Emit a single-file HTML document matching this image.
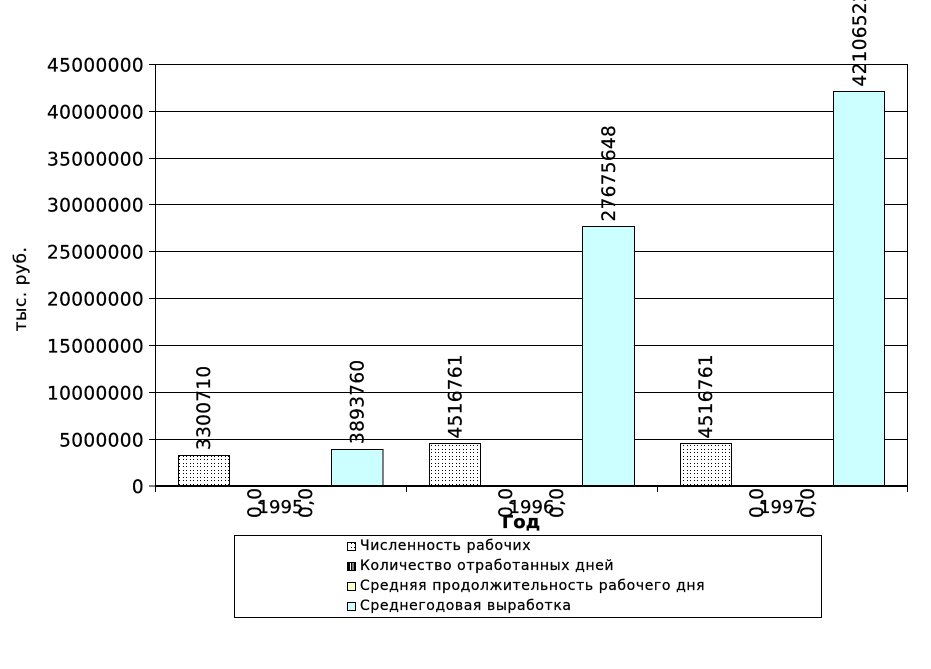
<!DOCTYPE html>
<html>
<head>
<meta charset="utf-8">
<style>
html,body{margin:0;padding:0;background:#fff;}
svg{display:block;}
text{font-family:"DejaVu Sans","Liberation Sans",sans-serif;fill:#000;stroke:#000;stroke-width:0.25px;}
</style>
</head>
<body>
<svg width="931" height="669" viewBox="0 0 931 669" xmlns="http://www.w3.org/2000/svg">
<defs>
<pattern id="dots" width="7" height="7" patternUnits="userSpaceOnUse">
<rect width="7" height="7" fill="#fff"/>
<rect x="1" y="1" width="1" height="1" fill="#000"/>
<rect x="4" y="1" width="1" height="1" fill="#000"/>
<rect x="1" y="4" width="1" height="1" fill="#000"/>
<rect x="4" y="4" width="1" height="1" fill="#000"/>
</pattern>
</defs>
<rect width="931" height="669" fill="#fff"/>

<!-- gridlines -->
<g stroke="#000" stroke-width="1">
<line x1="149" y1="64.5" x2="907" y2="64.5"/>
<line x1="149" y1="111.5" x2="907" y2="111.5"/>
<line x1="149" y1="158.5" x2="907" y2="158.5"/>
<line x1="149" y1="204.5" x2="907" y2="204.5"/>
<line x1="149" y1="251.5" x2="907" y2="251.5"/>
<line x1="149" y1="298.5" x2="907" y2="298.5"/>
<line x1="149" y1="345.5" x2="907" y2="345.5"/>
<line x1="149" y1="392.5" x2="907" y2="392.5"/>
<line x1="149" y1="439.5" x2="907" y2="439.5"/>
<line x1="149" y1="486" x2="155" y2="486"/>
<line x1="155.5" y1="64" x2="155.5" y2="487"/>
<line x1="907.5" y1="64" x2="907.5" y2="487"/>
</g>

<!-- bars -->
<g stroke="#000" stroke-width="1">
<rect x="178.5" y="455.5" width="51" height="30.5" fill="url(#dots)"/>
<rect x="331.5" y="449.5" width="51.5" height="36.5" fill="#ccffff"/>
<rect x="429.5" y="443.5" width="51" height="42.5" fill="url(#dots)"/>
<rect x="582.5" y="226.5" width="52" height="259.5" fill="#ccffff"/>
<rect x="680.5" y="443.5" width="51" height="42.5" fill="url(#dots)"/>
<rect x="833.5" y="91.5" width="51" height="394.5" fill="#ccffff"/>
</g>

<!-- x axis -->
<line x1="155" y1="486" x2="908" y2="486" stroke="#000" stroke-width="2"/>
<g stroke="#000" stroke-width="1">
<line x1="155.5" y1="486" x2="155.5" y2="492"/>
<line x1="406.5" y1="486" x2="406.5" y2="492"/>
<line x1="657.5" y1="486" x2="657.5" y2="492"/>
<line x1="907.5" y1="486" x2="907.5" y2="492"/>
</g>

<!-- y tick labels -->
<g font-size="18.5" text-anchor="end" letter-spacing="0.35">
<text x="144" y="71.5">45000000</text>
<text x="144" y="118.5">40000000</text>
<text x="144" y="165.5">35000000</text>
<text x="144" y="211.5">30000000</text>
<text x="144" y="258.5">25000000</text>
<text x="144" y="305.5">20000000</text>
<text x="144" y="352.5">15000000</text>
<text x="144" y="399.5">10000000</text>
<text x="144" y="446.5">5000000</text>
<text x="144" y="493">0</text>
</g>

<!-- y axis title -->
<text x="26" y="289" font-size="17" text-anchor="middle" letter-spacing="0.5" transform="rotate(-90 26 289)">тыс. руб.</text>

<!-- category labels -->
<g font-size="18" text-anchor="middle">
<text x="280.5" y="513">1995</text>
<text x="531.5" y="513">1996</text>
<text x="782" y="513">1997</text>
</g>
<text x="521" y="528" font-size="18" font-weight="bold" text-anchor="middle">Год</text>

<!-- value labels -->
<g font-size="18.5" letter-spacing="0.3">
<text x="210" y="450" transform="rotate(-90 210 450)">3300710</text>
<text x="363.5" y="444" transform="rotate(-90 363.5 444)">3893760</text>
<text x="461.5" y="438.5" transform="rotate(-90 461.5 438.5)">4516761</text>
<text x="615" y="221.5" transform="rotate(-90 615 221.5)">27675648</text>
<text x="712" y="438.5" transform="rotate(-90 712 438.5)">4516761</text>
<text x="866" y="86.5" transform="rotate(-90 866 86.5)">42106522</text>
<text x="261" y="518" transform="rotate(-90 261 518)">0,0</text>
<text x="312" y="518" transform="rotate(-90 312 518)">0,0</text>
<text x="512" y="518" transform="rotate(-90 512 518)">0,0</text>
<text x="563" y="518" transform="rotate(-90 563 518)">0,0</text>
<text x="763" y="518" transform="rotate(-90 763 518)">0,0</text>
<text x="814" y="518" transform="rotate(-90 814 518)">0,0</text>
</g>

<!-- legend -->
<rect x="234.5" y="535.5" width="587" height="82" fill="#fff" stroke="#000" stroke-width="1"/>
<rect x="347.5" y="542.5" width="8" height="8" fill="url(#dots)" stroke="#000" stroke-width="1"/>
<rect x="347.5" y="562.5" width="8" height="8" fill="#000" stroke="#000" stroke-width="1"/>
<rect x="350" y="563" width="1" height="7" fill="#fff"/>
<rect x="352.5" y="563" width="1" height="7" fill="#fff"/>
<rect x="347.5" y="582.5" width="8" height="8" fill="#ffffcc" stroke="#000" stroke-width="1"/>
<rect x="347.5" y="602.5" width="8" height="8" fill="#ccffff" stroke="#000" stroke-width="1"/>
<g font-size="14" letter-spacing="0.6">
<text x="360" y="550">Численность рабочих</text>
<text x="360" y="570">Количество отработанных дней</text>
<text x="360" y="590">Средняя продолжительность рабочего дня</text>
<text x="360" y="610">Среднегодовая выработка</text>
</g>
</svg>
</body>
</html>
